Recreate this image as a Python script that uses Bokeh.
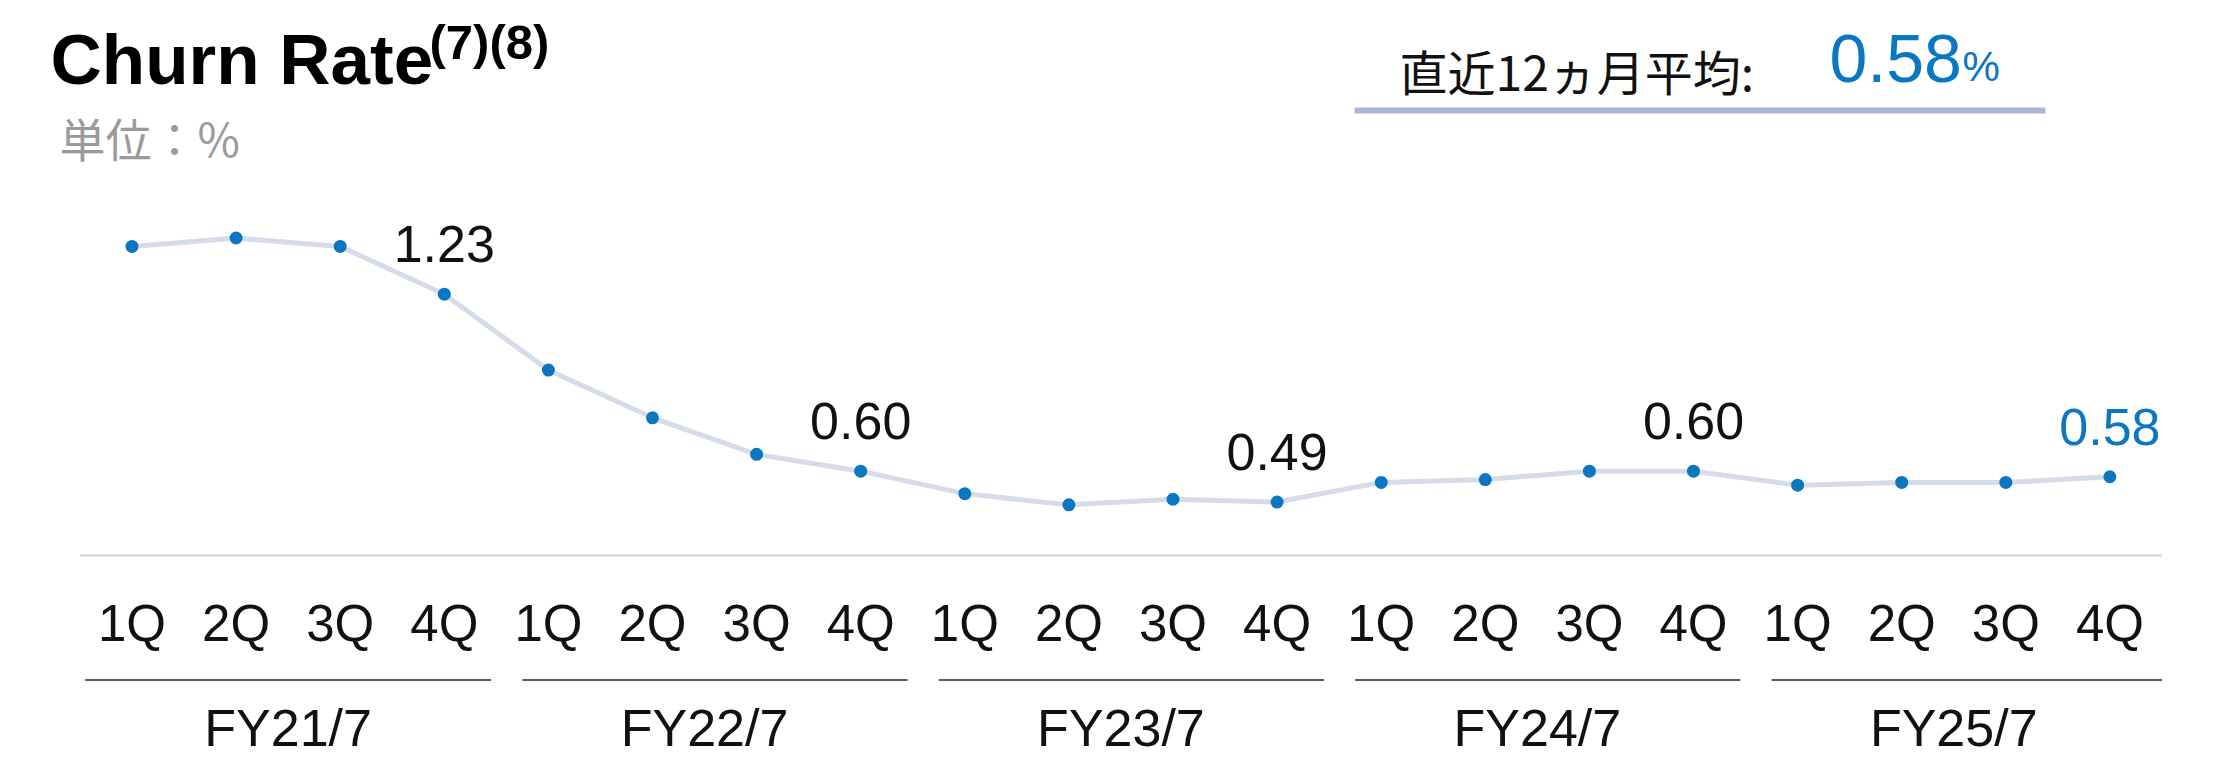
from bokeh.plotting import figure
from bokeh.models import Range1d, ColumnDataSource
from bokeh.core.properties import value
from bokeh.embed import file_html
from bokeh.resources import INLINE

# ---- data -------------------------------------------------------------
fiscal_years = ["FY21/7", "FY22/7", "FY23/7", "FY24/7", "FY25/7"]
quarters = ["1Q", "2Q", "3Q", "4Q"]
churn_rate = [1.40, 1.43, 1.40, 1.23,
              0.96, 0.79, 0.66, 0.60,
              0.52, 0.48, 0.50, 0.49,
              0.56, 0.57, 0.60, 0.60,
              0.55, 0.56, 0.56, 0.58]
labelled_quarter = "4Q"          # year-end quarters carry a value label
avg_12m_label = "直近12ヵ月平均:"
avg_12m_value = 0.58
unit_label = "単位：%"

# ---- layout -----------------------------------------------------------
W, H = 2218, 757
X0_PX, STEP_PX = 131.5, 104.1          # pixel of first category, spacing
Y0_PX, PX_PER_UNIT = 639.2, 280.9      # pixel of value 0, pixels per 1.0
AXIS_FLOOR = 0.30                      # value at which the baseline sits

def ax(px):
    return (px - X0_PX) / STEP_PX

def ay(py):
    return (Y0_PX - py) / PX_PER_UNIT

FONT = value("Liberation Sans")
CJK = value("Noto Sans CJK JP")
BLUE = "#0b76c1"
LINE = "#d5dbe8"

p = figure(width=W, height=H, output_backend="svg", toolbar_location=None,
           x_range=Range1d(ax(0), ax(W)), y_range=Range1d(ay(H), ay(0)),
           min_border=0)
p.axis.visible = False
p.grid.visible = False
p.outline_line_color = None
p.background_fill_color = "white"
p.border_fill_color = "white"

n = len(churn_rate)
idx = list(range(n))
q_labels = [quarters[i % 4] for i in idx]

# baseline
p.segment(x0=[-0.5], y0=[AXIS_FLOOR], x1=[n - 0.5], y1=[AXIS_FLOOR],
          line_color="#d9d9d9", line_width=2.5)

# line + markers
src = ColumnDataSource(dict(x=idx, y=churn_rate))
p.line("x", "y", source=src, line_color=LINE, line_width=5)
p.scatter("x", "y", source=src, size=13, fill_color=BLUE, line_color=None)

# value labels on year-end quarters
lab_x = [i for i in idx if q_labels[i] == labelled_quarter]
lab_y = [churn_rate[i] for i in lab_x]
lab_t = [f"{churn_rate[i]:.2f}" for i in lab_x]
lab_c = ["#111111"] * (len(lab_x) - 1) + [BLUE]
p.text(x=lab_x, y=lab_y, text=lab_t, text_color=lab_c,
       text_font=FONT, text_font_size="52px", text_align="center",
       text_baseline="middle", y_offset=-50)

# quarter tick labels
p.text(x=idx, y=[AXIS_FLOOR] * n, text=q_labels, text_font=FONT,
       text_font_size="51px", text_color="#111111", text_align="center",
       text_baseline="middle", y_offset=68)

# fiscal-year group rules and labels
g = len(fiscal_years)
g_start = [4 * k - 0.25 for k in range(g)]
g_end = [4 * k + 3.45 for k in range(g)]
g_start[0] = -0.45
g_end[-1] = n - 0.5
g_y = AXIS_FLOOR - 124.5 / PX_PER_UNIT
p.segment(x0=g_start, y0=[g_y] * g, x1=g_end, y1=[g_y] * g,
          line_color="#5a5a5a", line_width=2)
p.text(x=[4 * k + 1.5 for k in range(g)], y=[AXIS_FLOOR] * g,
       text=fiscal_years, text_font=FONT, text_font_size="52px",
       text_color="#111111", text_align="center", text_baseline="middle",
       y_offset=173)

# title block
p.text(x=[ax(50)], y=[ay(59)], text=["Churn Rate"], text_font=FONT,
       text_font_size="71px", text_font_style="bold", text_color="#000000",
       text_baseline="middle")
p.text(x=[ax(429)], y=[ay(41)], text=["(7)(8)"], text_font=FONT,
       text_font_size="49px", text_font_style="bold", text_color="#000000",
       text_baseline="middle")
p.text(x=[ax(59)], y=[ay(136)], text=[unit_label], text_font=CJK,
       text_font_size="46px", text_color="#9a9a9a", text_baseline="middle")

# trailing twelve-month average
p.text(x=[ax(1399)], y=[ay(69)], text=[avg_12m_label], text_font=CJK,
       text_font_size="48px", text_color="#111111", text_baseline="middle")
p.text(x=[ax(1829)], y=[ay(58)], text=[f"{avg_12m_value:.2f}"], text_font=FONT,
       text_font_size="68px", text_color=BLUE, text_baseline="middle")
p.text(x=[ax(1962)], y=[ay(66)], text=["%"], text_font=FONT,
       text_font_size="42px", text_color=BLUE, text_baseline="middle")
p.segment(x0=[ax(1354)], y0=[ay(110)], x1=[ax(2045)], y1=[ay(110)],
          line_color="#a9b7d4", line_width=6)

open("out.html", "w").write(file_html(p, INLINE))
